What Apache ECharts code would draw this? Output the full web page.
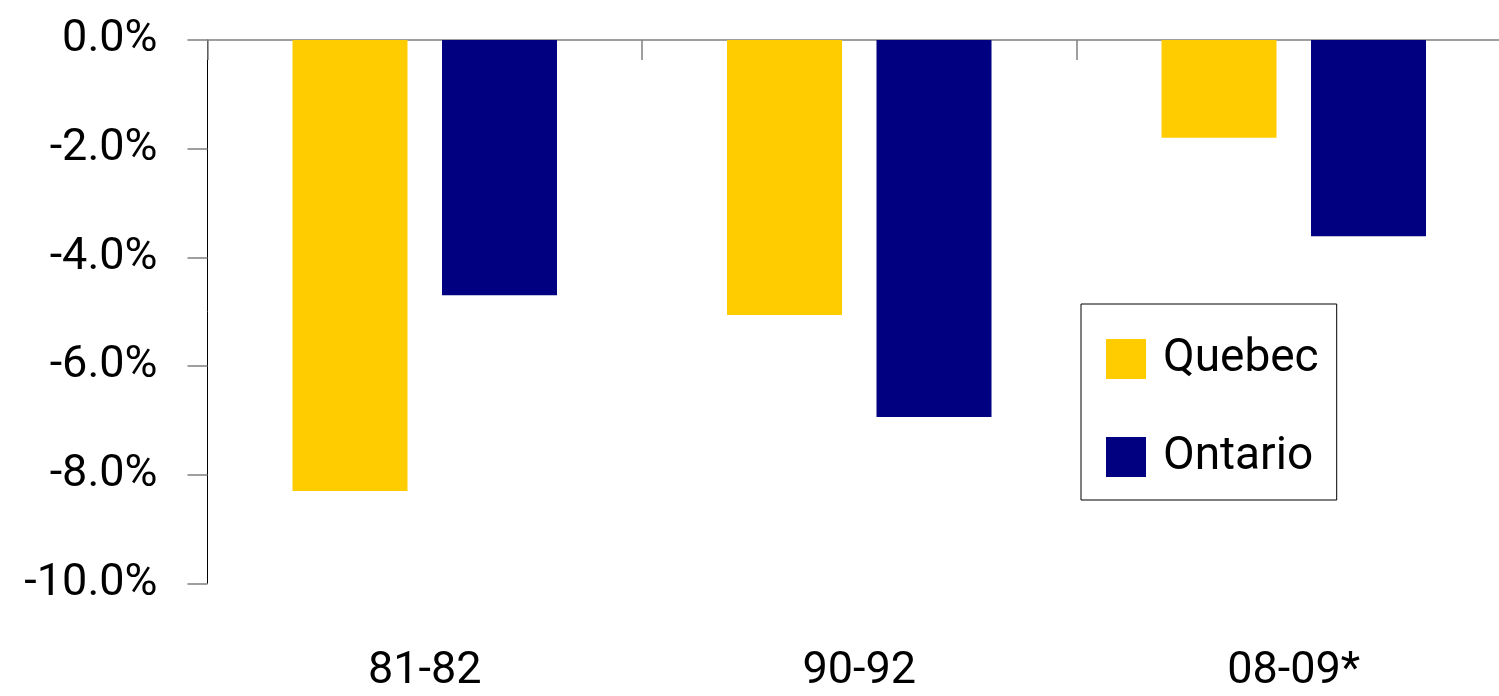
<!DOCTYPE html>
<html>
<head>
<meta charset="utf-8">
<script src="https://cdn.jsdelivr.net/npm/echarts@6/dist/echarts.min.js"></script>
<style>
html,body{margin:0;padding:0;background:#fff;}
#chart{width:1499px;height:696px;}
</style>
</head>
<body>
<div id="chart"></div>
<script>
var categories = ['81-82', '90-92', '08-09*'];
var quebec = [-8.3, -5.06, -1.8];
var ontario = [-4.7, -6.94, -3.61];
var yMin = -10, yMax = 0, yInterval = 2;

var FONT = 'Roboto, "Liberation Sans", sans-serif';

var chart = echarts.init(document.getElementById('chart'), null, {renderer: 'canvas'});
chart.setOption({
  animation: false,
  backgroundColor: '#ffffff',
  grid: {left: 207.5, top: 40, width: 1303.5, height: 543.3, containLabel: false, outerBoundsMode: 'none'},
  legend: {
    orient: 'vertical',
    left: 1081, top: 304,
    padding: [26, 18, 14, 25],
    itemWidth: 40, itemHeight: 40,
    itemGap: 40,
    borderColor: '#000', borderWidth: 1,
    icon: 'rect',
    textStyle: {fontFamily: FONT, fontSize: 46, lineHeight: 40, color: '#000', padding: [0, 0, 18, 12]},
    data: ['Quebec', 'Ontario']
  },
  xAxis: [{
    type: 'category',
    data: categories,
    position: 'bottom',
    axisLine: {onZero: true, lineStyle: {color: '#808080', width: 1.5}},
    axisTick: {show: true, length: 20, lineStyle: {color: '#808080', width: 1.5}},
    axisLabel: {show: false}
  }, {
    type: 'category',
    data: categories,
    position: 'bottom',
    axisLine: {show: false, onZero: false},
    axisTick: {show: false},
    axisLabel: {show: true, margin: 66, fontFamily: FONT, fontSize: 45, color: '#000'}
  }],
  yAxis: {
    type: 'value',
    min: yMin, max: yMax, interval: yInterval,
    axisLine: {show: true, lineStyle: {color: '#000', width: 1}},
    axisTick: {show: true, length: 20, lineStyle: {color: '#808080', width: 1.5}},
    splitLine: {show: false},
    axisLabel: {
      margin: 50, fontFamily: FONT, fontSize: 45, color: '#000',
      padding: [0, 0, 16, 0],
      formatter: function (v) { return v.toFixed(1) + '%'; }
    }
  },
  series: [{
    name: 'Quebec', type: 'bar', data: quebec, xAxisIndex: 0,
    barWidth: 115, barGap: '30%',
    itemStyle: {color: '#FFCC00'}
  }, {
    name: 'Ontario', type: 'bar', data: ontario, xAxisIndex: 0,
    barWidth: 115, barGap: '30%',
    itemStyle: {color: '#000080'}
  }]
});
</script>
</body>
</html>
